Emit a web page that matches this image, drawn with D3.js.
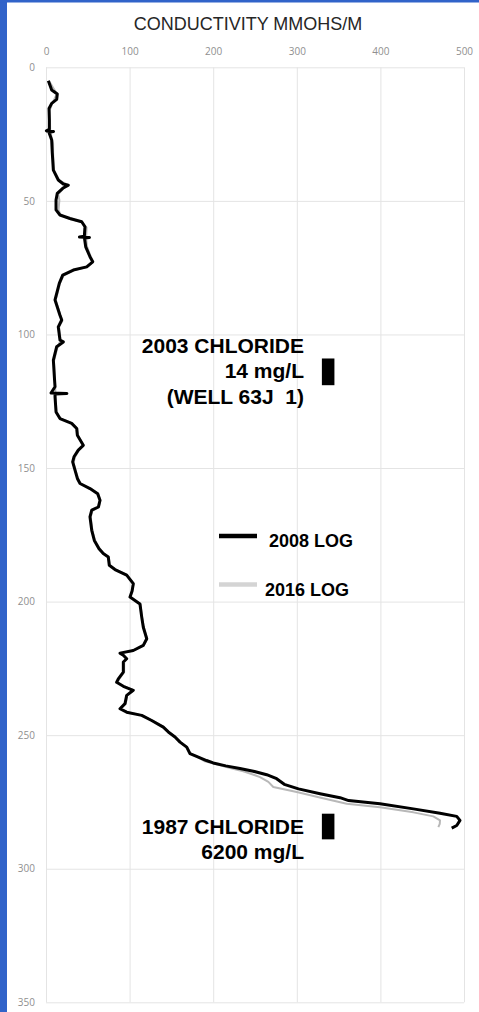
<!DOCTYPE html>
<html>
<head>
<meta charset="utf-8">
<script src="https://cdn.jsdelivr.net/npm/d3@7"></script>
<style>
  body { margin: 0; background: #fff; }
  svg { display: block; }
  .tick text { font-family: "Open Sans", sans-serif; font-size: 10px; fill: #8f8f8f; }
</style>
</head>
<body>
<div id="chart"></div>
<script>
// conductivity ticks (mmohs/m) and depth ticks
let condTicks = [0, 100, 200, 300, 400, 500]
let depthTicks = [0, 50, 100, 150, 200, 250, 300, 350]

// 2008 log: depth and conductivity
let depth2008 = [5, 8.5, 10, 12, 13.5, 15.4, 19.7, 23.2, 23.8, 24, 24.3, 27.2, 32, 38.5, 42.2, 43.7, 44.1, 45.3, 47.2, 49.7,
  53.4, 55.3, 56.6, 57.8, 59.7, 63.2, 63.5, 63.7, 63.9, 67.2, 70.9, 72.8, 74.7, 75.9, 77.8, 80.9, 84.6, 87.1, 92.8, 94.6,
  97.2, 102.1, 102.8, 104.6, 109.6, 115.9, 119.6, 121.9, 122.1, 122.3, 123.4, 129, 131.5, 133.3, 135.2, 137.7, 141.5, 143.3, 145.8, 147.7,
  150.8, 153.9, 155.8, 157.7, 159.6, 162.1, 164.6, 165.8, 168.3, 173.3, 177.1, 180.2, 182, 183.3, 186.4, 188, 190.1, 193.3, 196, 198.3,
  200.9, 205.8, 209.6, 213.9, 216.4, 218.3, 219.3, 220.1, 221.4, 222.6, 226.4, 228.9, 230.2, 231.7, 233.2, 235.1, 238.2, 240.1, 241.4, 242.6,
  244.5, 247, 248.8, 250.7, 252.6, 254.5, 256.9, 258.2, 259.5, 260.4, 261.5, 262.5, 263.5, 264.8, 266.3, 268.4, 270.1, 271.9, 273.4, 274.5,
  275.7, 277.6, 279.2, 280.4, 281.9, 283.8, 284.8]
let cond2008 = [2.8, 6.8, 13.5, 12.8, 6.8, 3.6, 4, 4, 0.5, 9, 3.5, 6.8, 7.5, 8.8, 14.7, 20.7, 26.7, 20, 13.5, 12,
  12, 16.7, 28.7, 42.7, 46.6, 45.9, 40, 52, 46, 47.5, 52.6, 55.9, 48.7, 32.7, 20, 15.9, 12.8, 10.8, 16.7, 18.8,
  14.7, 16.7, 20.7, 12.8, 8.8, 10, 10.8, 6, 25, 10.8, 10.8, 12, 16.7, 30.7, 36.7, 37.5, 44.6, 38.6, 33.5, 31.9,
  34.7, 37.5, 40.7, 52.6, 61.8, 64.6, 62.6, 54.7, 52.6, 54.7, 57.8, 63.4, 68.5, 74.5, 75.7, 82.5, 96.5, 104.4, 103, 100.5,
  112.4, 114.5, 116.4, 120.5, 116.4, 104.4, 88.5, 92.5, 96.5, 92.5, 92.5, 86.5, 84.5, 92.5, 104.4, 96.5, 94.5, 88.5, 96.5, 114.5,
  126.4, 140.3, 146.3, 154.3, 160.3, 168.3, 172.2, 182.2, 192, 200, 215, 232, 248, 264, 275.9, 285, 302, 327.8, 351.7, 362,
  399.5, 439.4, 471.3, 491.3, 495.2, 491.3, 485.3]

// 2016 log
let depth2016 = [5, 10, 13.5, 16, 24, 28.5, 32, 38.5, 42.2, 44, 45.5, 47.5, 49.7, 53.4, 55.3, 57, 58, 60, 64, 67,
  71, 72.8, 74.7, 76, 78, 81, 85, 87, 93, 95, 97, 102, 105, 110, 116, 123.5, 129, 131.5, 133.3, 135.2,
  138, 141.5, 143.3, 146, 148, 151, 154, 156, 157.7, 159.6, 162, 164.6, 166, 168.3, 173.3, 177, 180, 182, 183.3, 186.4,
  188, 190, 193.3, 198.3, 201, 206, 209.6, 214, 216.4, 218.3, 219.3, 221.4, 222.6, 226.4, 229, 230.2, 231.7, 233.2, 235.1, 238.2,
  240.1, 241.4, 242.6, 244.5, 247, 248.8, 250.7, 252.6, 254.5, 256.9, 258.2, 259.8, 261, 262.3, 263.5, 265, 265.7, 267.5, 269.4, 271.3,
  273.5, 275.7, 277, 278.9, 280.4, 281.9, 283.2, 284.4]
let cond2016 = [3.5, 13, 7.5, 4.5, 5, 8.5, 8.5, 9.5, 15.5, 26, 20.5, 14.5, 16, 15, 17.5, 30, 43.5, 48.5, 48, 49,
  53.5, 56.5, 49.5, 33, 21, 16.5, 13.5, 11.5, 17.5, 19.5, 15.5, 17.5, 13.5, 9.5, 10.5, 11.5, 12.5, 17.5, 31.5, 37.5,
  38.5, 45, 39.5, 34.5, 33, 35.5, 38.5, 41.5, 53.5, 62.5, 65, 63.5, 55.5, 53.5, 55.5, 58.5, 64, 69, 75, 76.5,
  83, 97, 105, 101, 113, 115, 117, 121, 117, 105, 89.5, 97, 93.5, 93.5, 87.5, 85.5, 93, 105, 97, 95.5,
  89.5, 97, 115, 127, 141, 147, 155, 161, 169, 173, 182, 190, 205, 220.1, 236, 250, 256, 266, 271.9, 299.9,
  330, 359.7, 399.5, 439.4, 463.3, 471.3, 471, 469.3]

// chloride samples: marker depth range and label lines
let sampleTop = [109, 279.4]
let sampleBottom = [119, 289]
let sampleLabels = [["2003 CHLORIDE", "14 mg/L", "(WELL 63J  1)"], ["1987 CHLORIDE", "6200 mg/L"]]
let sampleCond = [330, 345]

let seriesNames = ["2008 LOG", "2016 LOG"]

let width = 479, height = 1012

let svg = d3.select('#chart').append('svg')
  .attr('width', width)
  .attr('height', height)

// blue frame of the slide
svg.append('rect').attr('x', 0).attr('y', 0).attr('width', 7).attr('height', height).attr('fill', '#3163c9')
svg.append('rect').attr('x', 0).attr('y', 0).attr('width', width).attr('height', 2.5).attr('fill', '#3163c9')

let x = d3.scaleLinear().domain([0, 500]).range([46, 464])
let y = d3.scaleLinear().domain([0, 350]).range([67.3, 1002.3])

// grid
svg.append('g')
  .attr('transform', `translate(0,${y(0)})`)
  .call(d3.axisBottom(x).tickValues(condTicks).tickSize(y(350) - y(0)).tickFormat(''))
  .call(g => g.select('.domain').remove())
  .call(g => g.selectAll('line').attr('stroke', '#e4e4e4'))

svg.append('g')
  .attr('transform', `translate(${x(0)},0)`)
  .call(d3.axisRight(y).tickValues(depthTicks).tickSize(x(500) - x(0)).tickFormat(''))
  .call(g => g.select('.domain').remove())
  .call(g => g.selectAll('line').attr('stroke', '#e4e4e4'))

// axes labels
svg.append('g')
  .attr('transform', `translate(0,${y(0)})`)
  .call(d3.axisTop(x).tickValues(condTicks).tickSize(0).tickPadding(12))
  .call(g => g.select('.domain').remove())

svg.append('g')
  .attr('transform', `translate(${x(0)},0)`)
  .call(d3.axisLeft(y).tickValues(depthTicks).tickSize(0).tickPadding(11))
  .call(g => g.select('.domain').remove())

svg.append('text')
  .attr('x', 248)
  .attr('y', 30)
  .attr('text-anchor', 'middle')
  .style('font-family', '"Liberation Sans", Arial, sans-serif')
  .style('font-size', '18px')
  .style('fill', '#262626')
  .text('CONDUCTIVITY MMOHS/M')

let line = d3.line()
  .x(d => x(d[1]))
  .y(d => y(d[0]))

svg.append('path')
  .datum(d3.zip(depth2016, cond2016))
  .attr('d', line)
  .attr('fill', 'none')
  .attr('stroke', '#b8b8b8')
  .attr('stroke-width', 2)
  .attr('stroke-linejoin', 'round')

svg.append('path')
  .datum(d3.zip(depth2008, cond2008))
  .attr('d', line)
  .attr('fill', 'none')
  .attr('stroke', '#000')
  .attr('stroke-width', 3)
  .attr('stroke-linejoin', 'round')

// chloride markers
let samples = d3.range(sampleTop.length).map(i => ({top: sampleTop[i], bottom: sampleBottom[i], lines: sampleLabels[i]}))

svg.selectAll('.marker')
  .data(samples)
  .enter().append('rect')
  .attr('class', 'marker')
  .attr('x', x(sampleCond[0]))
  .attr('width', x(sampleCond[1]) - x(sampleCond[0]))
  .attr('y', d => y(d.top))
  .attr('height', d => y(d.bottom) - y(d.top))
  .attr('fill', '#000')

let labelFirst = [352.5, 833.5]
let labelGap = [25.5, 25]
samples.forEach((s, i) => {
  svg.append('text')
    .attr('text-anchor', 'end')
    .style('font-family', '"Liberation Sans", Arial, sans-serif')
    .style('font-weight', 'bold')
    .style('font-size', '21px')
    .style('white-space', 'pre')
    .selectAll('tspan')
    .data(s.lines)
    .enter().append('tspan')
    .attr('x', 304)
    .attr('y', (d, j) => labelFirst[i] + j * labelGap[i])
    .text(d => d)
})

// legend
let legendColors = ['#000', '#d4d4d4']
let legendY = [536, 584.5]
let legendTextX = [269, 265]
seriesNames.forEach((name, i) => {
  svg.append('line')
    .attr('x1', 219).attr('x2', 257)
    .attr('y1', legendY[i]).attr('y2', legendY[i])
    .attr('stroke', legendColors[i])
    .attr('stroke-width', 4.5)
  svg.append('text')
    .attr('x', legendTextX[i])
    .attr('y', legendY[i] + 11)
    .style('font-family', '"Liberation Sans", Arial, sans-serif')
    .style('font-weight', 'bold')
    .style('font-size', '18px')
    .text(name)
})
</script>
</body>
</html>
